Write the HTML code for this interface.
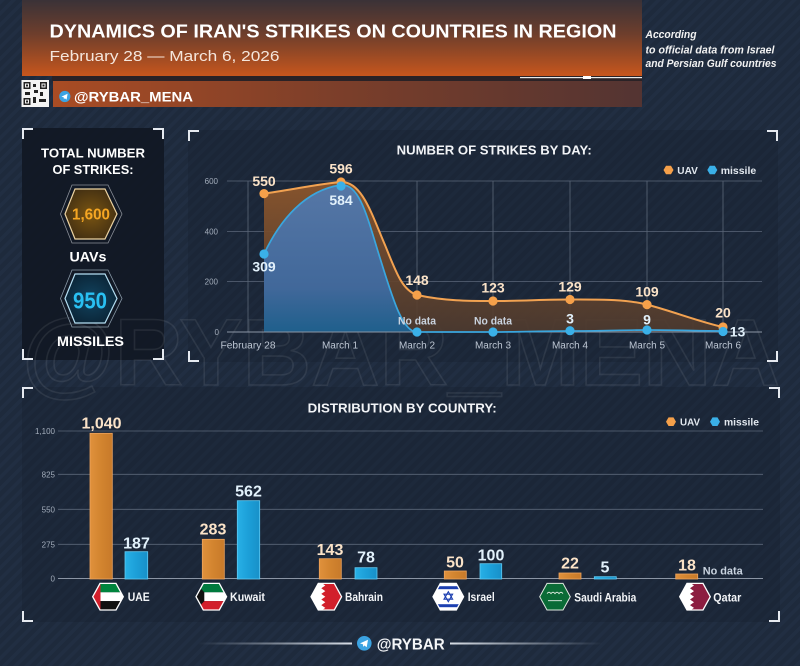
<!DOCTYPE html>
<html><head><meta charset="utf-8"><style>
html,body{margin:0;padding:0;background:#1e2a3c;}
svg{display:block;font-family:"Liberation Sans",sans-serif;}
</style></head><body>
<svg width="800" height="666" viewBox="0 0 800 666" xmlns="http://www.w3.org/2000/svg">
<defs>
<pattern id="st" width="8" height="8" patternUnits="userSpaceOnUse" patternTransform="rotate(45)"><rect width="3.5" height="8" fill="#243247"/></pattern>
<linearGradient id="ban" x1="0" y1="0" x2="0" y2="1"><stop offset="0" stop-color="#3a3237"/><stop offset="0.45" stop-color="#6e3e2c"/><stop offset="1" stop-color="#c7561d"/></linearGradient>
<linearGradient id="ban2" x1="0" y1="0" x2="1" y2="0"><stop offset="0" stop-color="#a94c24"/><stop offset="0.5" stop-color="#7a3e2a"/><stop offset="1" stop-color="#533432"/></linearGradient>
<linearGradient id="oa" x1="0" y1="0" x2="0" y2="1"><stop offset="0" stop-color="#8c562c" stop-opacity="0.95"/><stop offset="1" stop-color="#4e3a2e" stop-opacity="0.9"/></linearGradient>
<linearGradient id="ba" x1="0" y1="0" x2="0" y2="1"><stop offset="0" stop-color="#5677a6"/><stop offset="0.7" stop-color="#41689a"/><stop offset="1" stop-color="#1f5f8c"/></linearGradient>
<radialGradient id="hxo" cx="0.5" cy="0.5" r="0.6"><stop offset="0" stop-color="#7a5512"/><stop offset="1" stop-color="#3e2c12"/></radialGradient>
<radialGradient id="hxb" cx="0.5" cy="0.5" r="0.6"><stop offset="0" stop-color="#124460"/><stop offset="1" stop-color="#0a2233"/></radialGradient>
<linearGradient id="ob" x1="0" y1="0" x2="1" y2="0"><stop offset="0" stop-color="#e0913c"/><stop offset="0.5" stop-color="#d2842f"/><stop offset="1" stop-color="#c77a2a"/></linearGradient>
<linearGradient id="bb" x1="0" y1="0" x2="1" y2="0"><stop offset="0" stop-color="#28b0e6"/><stop offset="0.5" stop-color="#1c9fd8"/><stop offset="1" stop-color="#1890c8"/></linearGradient>
<linearGradient id="fl" x1="0" y1="0" x2="1" y2="0"><stop offset="0" stop-color="#c8d0da" stop-opacity="0"/><stop offset="1" stop-color="#d8dee6"/></linearGradient>
<linearGradient id="fr" x1="0" y1="0" x2="1" y2="0"><stop offset="0" stop-color="#d8dee6"/><stop offset="1" stop-color="#c8d0da" stop-opacity="0"/></linearGradient>
<clipPath id="hx"><polygon points="-15.3,0 -8,-13.3 8,-13.3 15.3,0 8,13.3 -8,13.3"/></clipPath>
</defs>

<!-- background -->
<rect width="800" height="666" fill="#1e2a3c"/>
<rect width="800" height="666" fill="url(#st)" opacity="0.55"/>

<!-- panels -->
<rect x="22" y="128" width="142" height="232" fill="#111824" opacity="0.92"/>
<rect x="188" y="130" width="590" height="232" fill="#121a28" opacity="0.25"/>
<rect x="22" y="387" width="758" height="235" fill="#121a28" opacity="0.25"/>

<!-- watermark -->
<text x="22" y="385" font-size="95" font-weight="bold" fill="none" stroke="#ffffff" stroke-opacity="0.08" stroke-width="1.6" textLength="758" lengthAdjust="spacingAndGlyphs">@RYBAR_MENA</text>

<!-- header -->
<rect x="22" y="0" width="620" height="76" fill="url(#ban)"/>
<rect x="52" y="76" width="590" height="5" fill="#2a2226"/>
<rect x="520" y="77" width="122" height="1.2" fill="#e8e8e8"/>
<rect x="583" y="76" width="8" height="3" fill="#ffffff"/>
<rect x="53" y="81" width="589" height="26" fill="url(#ban2)"/>
<text x="49.5" y="37.7" font-size="18" font-weight="bold" fill="#ffffff" textLength="567" lengthAdjust="spacingAndGlyphs">DYNAMICS OF IRAN'S STRIKES ON COUNTRIES IN REGION</text>
<text x="49.5" y="61" font-size="15" fill="#f5e6dc" textLength="230" lengthAdjust="spacingAndGlyphs">February 28 — March 6, 2026</text>
<g font-size="11" font-style="italic" font-weight="bold" fill="#f2f2f2">
<text x="645.5" y="38" textLength="51" lengthAdjust="spacingAndGlyphs">According</text>
<text x="645.5" y="53.5" textLength="129" lengthAdjust="spacingAndGlyphs">to official data from Israel</text>
<text x="645.5" y="67" textLength="131" lengthAdjust="spacingAndGlyphs">and Persian Gulf countries</text>
</g>
<!-- QR -->
<rect x="21.5" y="80" width="27.5" height="27" fill="#f4f4f4"/>
<g fill="#222">
<rect x="23.5" y="82" width="7" height="7"/><rect x="40" y="82" width="7" height="7"/><rect x="23.5" y="98" width="7" height="7"/>
<rect x="33" y="84" width="3" height="3"/><rect x="34" y="90" width="4" height="3"/><rect x="40" y="92" width="3" height="4"/><rect x="33" y="97" width="3" height="6"/><rect x="39" y="99" width="7" height="3"/><rect x="25" y="92" width="5" height="3"/>
</g>
<g fill="#f4f4f4"><rect x="25" y="83.5" width="4" height="4"/><rect x="41.5" y="83.5" width="4" height="4"/><rect x="25" y="99.5" width="4" height="4"/></g>
<g fill="#222"><rect x="26" y="84.5" width="2" height="2"/><rect x="42.5" y="84.5" width="2" height="2"/><rect x="26" y="100.5" width="2" height="2"/></g>
<circle cx="64.8" cy="96.5" r="5.6" fill="#3ba3e2"/>
<polygon points="61.5,96.6 67.6,93.8 66.6,99.6 64.8,98.2 63.8,99.3 63.9,97.5" fill="#ffffff"/>
<text x="74" y="101.7" font-size="14" font-weight="bold" fill="#ffffff" textLength="119" lengthAdjust="spacingAndGlyphs">@RYBAR_MENA</text>

<!-- corner brackets -->
<g fill="none" stroke="#e6eaf0" stroke-width="2">
<path d="M23,139 V129 H33"/><path d="M153,129 H163 V139"/><path d="M23,349 V359 H33"/><path d="M153,359 H163 V349"/>
<path d="M189,141 V131 H199"/><path d="M767,131 H777 V141"/><path d="M189,351 V361 H199"/><path d="M767,361 H777 V351"/>
<path d="M23,398 V388 H33"/><path d="M769,388 H779 V398"/><path d="M23,611 V621 H33"/><path d="M769,621 H779 V611"/>
</g>

<!-- left panel -->
<g font-weight="bold" fill="#ffffff" text-anchor="middle">
<text x="93" y="157.7" font-size="13" textLength="104" lengthAdjust="spacingAndGlyphs">TOTAL NUMBER</text>
<text x="93" y="174" font-size="13" textLength="81" lengthAdjust="spacingAndGlyphs">OF STRIKES:</text>
<text x="88" y="261.7" font-size="14" textLength="37" lengthAdjust="spacingAndGlyphs">UAVs</text>
<text x="90.5" y="346" font-size="14" textLength="67" lengthAdjust="spacingAndGlyphs">MISSILES</text>
</g>
<polygon points="60.5,214 72,185 108,185 122,214 108,243 72,243" fill="none" stroke="#8a8f98" stroke-width="0.8"/>
<polygon points="65,214 75,189 105,189 117,214 105,239 75,239" fill="url(#hxo)" stroke="#ecd3a2" stroke-width="1.2"/>
<text x="91" y="219.5" font-size="16" font-weight="bold" fill="#f5a623" text-anchor="middle" textLength="38" lengthAdjust="spacingAndGlyphs">1,600</text>
<polygon points="60.5,298.5 72,270 108,270 122,298.5 108,327 72,327" fill="none" stroke="#8a9aa8" stroke-width="0.8"/>
<polygon points="65,298.5 75,274 105,274 117,298.5 105,323 75,323" fill="url(#hxb)" stroke="#b4def2" stroke-width="1.2"/>
<text x="90" y="308.5" font-size="23" font-weight="bold" fill="#29c0f2" text-anchor="middle" textLength="34" lengthAdjust="spacingAndGlyphs">950</text>

<!-- top chart -->
<text x="396.7" y="154.5" font-size="13" font-weight="bold" fill="#f2f4f7" textLength="195" lengthAdjust="spacingAndGlyphs">NUMBER OF STRIKES BY DAY:</text>
<polygon points="663.5,170 666,165.7 671,165.7 673.5,170 671,174.3 666,174.3" fill="#f5a04a"/>
<text x="677.3" y="173.8" font-size="10.5" font-weight="bold" fill="#e2e8ef" textLength="20.5" lengthAdjust="spacingAndGlyphs">UAV</text>
<polygon points="707.3,170 709.8,165.7 714.8,165.7 717.3,170 714.8,174.3 709.8,174.3" fill="#3ab0e8"/>
<text x="720.7" y="173.8" font-size="10.5" font-weight="bold" fill="#e2e8ef" textLength="35.5" lengthAdjust="spacingAndGlyphs">missile</text>

<g stroke="#6b7688" stroke-width="0.8" opacity="0.8">
<line x1="227" y1="181" x2="762" y2="181"/><line x1="227" y1="231.5" x2="762" y2="231.5"/><line x1="227" y1="281.5" x2="762" y2="281.5"/>
<line x1="248" y1="181" x2="248" y2="332"/><line x1="341" y1="181" x2="341" y2="332"/><line x1="417" y1="181" x2="417" y2="332"/><line x1="493" y1="181" x2="493" y2="332"/><line x1="570" y1="181" x2="570" y2="332"/><line x1="647" y1="181" x2="647" y2="332"/><line x1="723" y1="181" x2="723" y2="332"/>
</g>
<g font-size="8" fill="#a3adbb" text-anchor="end">
<text x="218" y="184">600</text><text x="218" y="234.5">400</text><text x="218" y="284.5">200</text><text x="219" y="335">0</text>
</g>

<path d="M264,193.6 C290,190 318,184 341,182 C362,181 372,215 385,245 C396,272 402,290 417,295 C445,301 468,301 493,301 C520,301 545,299.5 570,299.5 C600,299.5 625,299 647,304.6 C672,311 700,322 723,327 L723,332 L264,332 Z" fill="url(#oa)"/>
<path d="M264,254 C280,220 305,190 341,185 C360,183 368,220 380,258 C392,296 402,332 417,332 L264,332 Z" fill="url(#ba)"/>
<line x1="227" y1="332" x2="762" y2="332" stroke="#8b95a4" stroke-width="0.9"/>
<path d="M264,193.6 C290,190 318,184 341,182 C362,181 372,215 385,245 C396,272 402,290 417,295 C445,301 468,301 493,301 C520,301 545,299.5 570,299.5 C600,299.5 625,299 647,304.6 C672,311 700,322 723,327" fill="none" stroke="#f2a251" stroke-width="2"/>
<path d="M264,254 C280,220 305,190 341,185 C360,183 368,220 380,258 C392,296 402,332 417,332 L493,332 C520,332 545,331 570,331 C600,331 625,330 647,330 C675,330 700,331 723,331" fill="none" stroke="#3aa6de" stroke-width="1.7"/>
<g fill="#f5a04a">
<circle cx="264" cy="193.6" r="4.6"/><circle cx="341" cy="182" r="4.6"/><circle cx="417" cy="295" r="4.6"/><circle cx="493" cy="301" r="4.6"/><circle cx="570" cy="299.5" r="4.6"/><circle cx="647" cy="304.6" r="4.6"/><circle cx="723" cy="327" r="4.6"/>
</g>
<g fill="#3ab0e8">
<circle cx="264" cy="254" r="4.6"/><circle cx="341" cy="186" r="4.6"/><circle cx="417" cy="332" r="4.6"/><circle cx="493" cy="332" r="4.6"/><circle cx="570" cy="330.7" r="4.6"/><circle cx="647" cy="330" r="4.6"/><circle cx="723" cy="331.5" r="4.6"/>
</g>
<g font-size="14" font-weight="bold" fill="#fbe3c8" text-anchor="middle">
<text x="264" y="186">550</text><text x="341" y="173.3">596</text><text x="417" y="285">148</text><text x="493" y="292.3">123</text><text x="570" y="291.7">129</text><text x="647" y="296.7">109</text><text x="723" y="317.7">20</text>
</g>
<g font-size="14" font-weight="bold" fill="#e2f1fb" text-anchor="middle">
<text x="264" y="271.7">309</text><text x="341" y="205">584</text><text x="570" y="323.3">3</text><text x="647" y="324.3">9</text><text x="737.5" y="336.7">13</text>
</g>
<g font-size="11" font-weight="bold" fill="#c9d3df" text-anchor="middle">
<text x="417" y="324.3" textLength="38" lengthAdjust="spacingAndGlyphs">No data</text><text x="493" y="324.3" textLength="38" lengthAdjust="spacingAndGlyphs">No data</text>
</g>
<g font-size="10" fill="#bcc5d2" text-anchor="middle">
<text x="248" y="348.3" textLength="55" lengthAdjust="spacingAndGlyphs">February 28</text><text x="340" y="348.3">March 1</text><text x="417" y="348.3">March 2</text><text x="493" y="348.3">March 3</text><text x="570" y="348.3">March 4</text><text x="647" y="348.3">March 5</text><text x="723" y="348.3">March 6</text>
</g>

<!-- bottom chart -->
<text x="307.7" y="412.3" font-size="13" font-weight="bold" fill="#f2f4f7" textLength="189" lengthAdjust="spacingAndGlyphs">DISTRIBUTION BY COUNTRY:</text>
<polygon points="666,421.7 668.5,417.4 673.5,417.4 676,421.7 673.5,426 668.5,426" fill="#f5a04a"/>
<text x="680" y="425.5" font-size="10.5" font-weight="bold" fill="#e2e8ef" textLength="20" lengthAdjust="spacingAndGlyphs">UAV</text>
<polygon points="710,421.7 712.5,417.4 717.5,417.4 720,421.7 717.5,426 712.5,426" fill="#3ab0e8"/>
<text x="724" y="425.5" font-size="10.5" font-weight="bold" fill="#e2e8ef" textLength="35" lengthAdjust="spacingAndGlyphs">missile</text>
<g stroke="#6b7688" stroke-width="0.8" opacity="0.8">
<line x1="58" y1="431" x2="763" y2="431"/><line x1="58" y1="474.3" x2="763" y2="474.3"/><line x1="58" y1="509.3" x2="763" y2="509.3"/><line x1="58" y1="544.3" x2="763" y2="544.3"/>
</g>
<line x1="58" y1="578.5" x2="763" y2="578.5" stroke="#8b95a4" stroke-width="0.9"/>
<g font-size="8" fill="#a3adbb" text-anchor="end">
<text x="55" y="434">1,100</text><text x="55" y="477.3">825</text><text x="55" y="512.3">550</text><text x="55" y="547.3">275</text><text x="55" y="581.5">0</text>
</g>
<g fill="url(#ob)" stroke="#eea45e" stroke-width="0.8">
<rect x="90" y="433.3" width="22.3" height="145.7"/>
<rect x="202.3" y="539.3" width="22" height="39.7"/>
<rect x="319.3" y="558.7" width="22" height="20.3"/>
<rect x="444.3" y="571" width="22" height="8"/>
<rect x="559" y="573" width="22" height="6"/>
<rect x="675.7" y="574" width="22" height="5"/>
</g>
<g fill="url(#bb)" stroke="#5fcaf4" stroke-width="0.8">
<rect x="125" y="551.7" width="22.7" height="27.3"/>
<rect x="237.3" y="500.7" width="22.4" height="78.3"/>
<rect x="355" y="567.7" width="22" height="11.3"/>
<rect x="480" y="563.7" width="21.7" height="15.3"/>
<rect x="594.3" y="576.7" width="22" height="2.3"/>
</g>
<g font-size="16" font-weight="bold" fill="#fbe3c8" text-anchor="middle">
<text x="101.5" y="428.3">1,040</text><text x="213" y="534.3">283</text><text x="330" y="555">143</text><text x="455" y="567.7">50</text><text x="570" y="568.3">22</text><text x="687" y="570.7">18</text>
</g>
<g font-size="16" font-weight="bold" fill="#e2f1fb" text-anchor="middle">
<text x="136.5" y="548.3">187</text><text x="248.5" y="496.7">562</text><text x="366" y="562.7">78</text><text x="491" y="560.3">100</text><text x="605" y="572.3">5</text>
</g>
<text x="702.7" y="574.3" font-size="11" font-weight="bold" fill="#c9d3df" textLength="40" lengthAdjust="spacingAndGlyphs">No data</text>

<!-- flags -->
<g transform="translate(108,596.7)">
<g clip-path="url(#hx)">
<rect x="-16" y="-14" width="32" height="9.6" fill="#00843d"/><rect x="-16" y="-4.4" width="32" height="8.8" fill="#ffffff"/><rect x="-16" y="4.4" width="32" height="9.6" fill="#111"/><rect x="-16" y="-14" width="8.5" height="28" fill="#d21f2b"/>
</g><polygon points="-15.3,0 -8,-13.3 8,-13.3 15.3,0 8,13.3 -8,13.3" fill="none" stroke="#fff" stroke-width="1.3"/></g>
<g transform="translate(211.3,596.7)">
<g clip-path="url(#hx)">
<rect x="-16" y="-14" width="32" height="9.6" fill="#007a3d"/><rect x="-16" y="-4.4" width="32" height="8.8" fill="#ffffff"/><rect x="-16" y="4.4" width="32" height="9.6" fill="#d21f2b"/><polygon points="-16,-14 -7,-4.4 -7,4.4 -16,14" fill="#111"/>
</g><polygon points="-15.3,0 -8,-13.3 8,-13.3 15.3,0 8,13.3 -8,13.3" fill="none" stroke="#fff" stroke-width="1.3"/></g>
<g transform="translate(326.3,596.7)">
<g clip-path="url(#hx)">
<rect x="-16" y="-14" width="32" height="28" fill="#ffffff"/><polygon points="-5,-14 -1,-11.2 -5,-8.4 -1,-5.6 -5,-2.8 -1,0 -5,2.8 -1,5.6 -5,8.4 -1,11.2 -5,14 16,14 16,-14" fill="#d21f2b"/>
</g><polygon points="-15.3,0 -8,-13.3 8,-13.3 15.3,0 8,13.3 -8,13.3" fill="none" stroke="#fff" stroke-width="1.3"/></g>
<g transform="translate(448.3,596.7)">
<g clip-path="url(#hx)">
<rect x="-16" y="-14" width="32" height="28" fill="#ffffff"/><rect x="-16" y="-10.5" width="32" height="3" fill="#1c3fb0"/><rect x="-16" y="7.5" width="32" height="3" fill="#1c3fb0"/>
<polygon points="0,-5 4.3,2.5 -4.3,2.5" fill="none" stroke="#1c3fb0" stroke-width="1.1"/><polygon points="0,5 4.3,-2.5 -4.3,-2.5" fill="none" stroke="#1c3fb0" stroke-width="1.1"/>
</g><polygon points="-15.3,0 -8,-13.3 8,-13.3 15.3,0 8,13.3 -8,13.3" fill="none" stroke="#fff" stroke-width="1.3"/></g>
<g transform="translate(555,596.7)">
<g clip-path="url(#hx)">
<rect x="-16" y="-14" width="32" height="28" fill="#0a6b36"/>
<path d="M-8,-3 q2,-3 4,0 q2,-3 4,0 q2,-3 4,0 q2,-3 4,0" fill="none" stroke="#e8f0e8" stroke-width="0.8"/>
<line x1="-7" y1="4" x2="7" y2="4" stroke="#e8f0e8" stroke-width="0.8"/>
</g><polygon points="-15.3,0 -8,-13.3 8,-13.3 15.3,0 8,13.3 -8,13.3" fill="none" stroke="#dfe8df" stroke-width="1"/></g>
<g transform="translate(695,596.7)">
<g clip-path="url(#hx)">
<rect x="-16" y="-14" width="32" height="28" fill="#ffffff"/><polygon points="-5,-14 -1,-11.2 -5,-8.4 -1,-5.6 -5,-2.8 -1,0 -5,2.8 -1,5.6 -5,8.4 -1,11.2 -5,14 16,14 16,-14" fill="#8c1d40"/>
</g><polygon points="-15.3,0 -8,-13.3 8,-13.3 15.3,0 8,13.3 -8,13.3" fill="none" stroke="#fff" stroke-width="1.3"/></g>
<g font-size="12" font-weight="bold" fill="#f2f4f7">
<text x="127.7" y="601" textLength="22" lengthAdjust="spacingAndGlyphs">UAE</text>
<text x="230" y="601" textLength="35" lengthAdjust="spacingAndGlyphs">Kuwait</text>
<text x="345" y="601" textLength="38" lengthAdjust="spacingAndGlyphs">Bahrain</text>
<text x="467.7" y="601" textLength="27" lengthAdjust="spacingAndGlyphs">Israel</text>
<text x="574.3" y="601.5" textLength="62" lengthAdjust="spacingAndGlyphs">Saudi Arabia</text>
<text x="713.3" y="601.5" textLength="28" lengthAdjust="spacingAndGlyphs">Qatar</text>
</g>

<!-- footer -->
<rect x="198" y="642.5" width="154" height="2" fill="url(#fl)"/>
<rect x="450" y="642.5" width="153" height="2" fill="url(#fr)"/>
<circle cx="364.3" cy="643.3" r="7.3" fill="#3ba3e2"/>
<polygon points="360,643.4 368,639.8 366.7,647.3 364.4,645.5 363,646.9 363.1,644.4" fill="#ffffff"/>
<text x="376.7" y="649.3" font-size="16" font-weight="bold" fill="#f4f6f8" textLength="68" lengthAdjust="spacingAndGlyphs">@RYBAR</text>
</svg>
</body></html>
